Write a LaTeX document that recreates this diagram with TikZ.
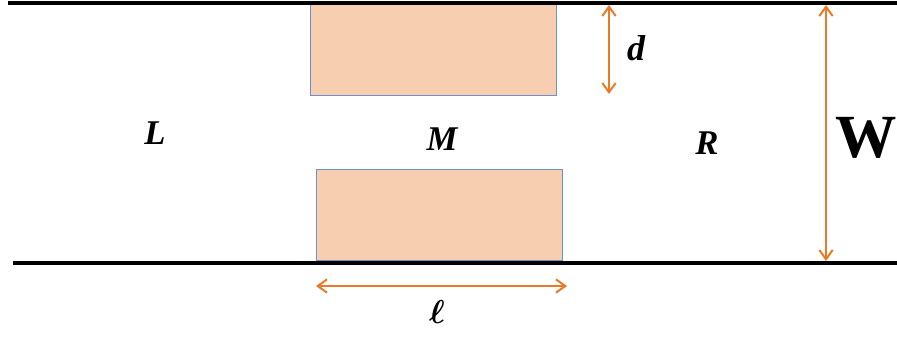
\documentclass[tikz,border=0pt]{standalone}
\usepackage{fontspec}
\setmainfont{Liberation Serif}
\usepackage{tikz}
\usetikzlibrary{positioning,arrows.meta}
\usepackage{xcolor}
\definecolor{wallblack}{RGB}{0,0,0}
\definecolor{barrierfill}{RGB}{248,206,176}
\definecolor{barrierblue}{RGB}{108,146,204}
\definecolor{dimorange}{RGB}{232,122,40}

\begin{document}
\begin{tikzpicture}[
    x=0.75pt, y=-0.75pt,
    every node/.style={inner sep=0pt},
    wallLine/.style={draw=wallblack, line width=3.3pt},
    barrierNode/.style={rectangle, draw=barrierblue, fill=barrierfill, line width=1pt, minimum width=184.5pt, minimum height=68.25pt, anchor=north west},
    regionLabel/.style={font=\fontsize{26}{26}\selectfont\bfseries\itshape},
    dimLabel/.style={font=\fontsize{27}{27}\selectfont\bfseries\itshape},
    dimArrow/.style={draw=dimorange, line width=1.5pt, {Straight Barb[length=7pt,width=10pt]}-{Straight Barb[length=7pt,width=10pt]}}
]
    \useasboundingbox (0,0) rectangle (897,336);
    \clip (0,0) rectangle (897,336);

    \coordinate (wallTopL) at (8,3);
    \coordinate (wallTopR) at (897,3);
    \coordinate (wallBotL) at (13,263);
    \coordinate (wallBotR) at (897,263);

    \node [barrierNode] (upperBar) at (310,4) {};
    \node [barrierNode] (lowerBar) at (316,169) {};

    \draw [wallLine] (wallTopL) -- (wallTopR);
    \draw [wallLine] (wallBotL) -- (wallBotR);

    \node [regionLabel] (leftRegion) at (155,133) {L};
    \node [regionLabel] (midRegion) at (442,139) {M};
    \node [regionLabel] (rightRegion) at (707,143) {R};

    \coordinate (dTop) at (609,5);
    \coordinate (dBot) at (609,94);
    \coordinate (wTop) at (826,5);
    \coordinate (wBot) at (826,261);
    \coordinate (lLeft) at (316,286);
    \coordinate (lRight) at (567,286);

    \path [dimArrow] (dTop) -- (dBot);
    \path [dimArrow] (wTop) -- (wBot);
    \path [dimArrow] (lLeft) -- (lRight);

    \node [dimLabel] (dLabel) at (636,48) {d};
    \node [font=\fontsize{28}{28}\selectfont\boldmath] (lLabel) at (437,312) {$\ell$};
    \node [font=\fontsize{46}{46}\selectfont\bfseries] (wLabel) at (866,138) {W};
\end{tikzpicture}
\end{document}
